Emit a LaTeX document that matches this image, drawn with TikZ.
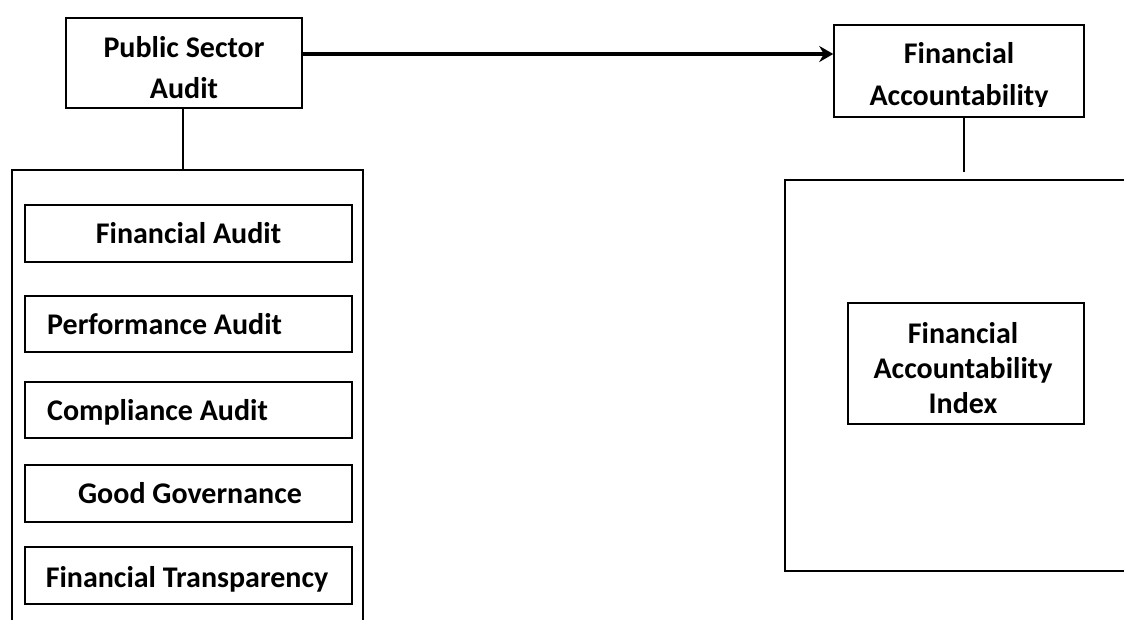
\documentclass[tikz,border=0pt]{standalone}
\usepackage{fontspec}
\setmainfont{Carlito}
\usetikzlibrary{arrows.meta}
\begin{document}
\begin{tikzpicture}[x=1pt,y=-1pt,
  box/.style={draw, line width=1.5pt, inner sep=0pt},
  lbl/.style={font=\bfseries\fontsize{30}{41}\selectfont, inner sep=0pt, align=center},
  conn/.style={line width=1.5pt},
]
\useasboundingbox (0,0) rectangle (1124,619);
\clip (0,0) rectangle (1124,619);
% top boxes
\node[box, minimum width=236pt, minimum height=90pt] (psa) at (184,63) {};
\node[box, minimum width=250pt, minimum height=92pt] (fa) at (959,71) {};
% containers
\node[box, line width=1.6pt, minimum width=351pt, minimum height=480pt] (left) at (187.5,410) {};
\node[box, line width=1.6pt, minimum width=375pt, minimum height=391pt] (right) at (972.5,375.5) {};
% inner left boxes
\node[box, minimum width=327pt, minimum height=57pt] (fab) at (188.5,233.5) {};
\node[box, minimum width=327pt, minimum height=56pt] (pab) at (188.5,324) {};
\node[box, minimum width=327pt, minimum height=56pt] (cab) at (188.5,410) {};
\node[box, minimum width=327pt, minimum height=57pt] (ggb) at (188.5,493.5) {};
\node[box, minimum width=327pt, minimum height=57pt] (ftb) at (188.5,575.5) {};
% inner right box
\node[box, minimum width=236pt, minimum height=121pt] (fai) at (966,363.5) {};
% texts
\node[lbl, anchor=north] (psaT) at (184,35) {\rule{0pt}{22pt}Public Sector\\Audit};
\begin{scope}
\clip (834,25) rectangle (1084,106);
\node[lbl, font=\bfseries\fontsize{30}{42}\selectfont, anchor=north] (faT) at (959,41) {\rule{0pt}{22pt}Financial\\Accountability};
\end{scope}
\node[lbl, font=\bfseries\fontsize{30}{35}\selectfont, anchor=north] (faiT) at (963,321) {\rule{0pt}{22pt}Financial\\Accountability\\Index};
\node[lbl, anchor=base] (fabT) at (188.5,243) {Financial Audit};
\node[lbl, anchor=base west] (pabT) at (47,334) {Performance Audit};
\node[lbl, anchor=base west] (cabT) at (47,420) {Compliance Audit};
\node[lbl, anchor=base] (ggbT) at (190,503) {Good Governance};
\node[lbl, anchor=base] (ftbT) at (187,587) {Financial Transparency};
% connectors
\draw[line width=3.5pt, -{Stealth[length=14pt,width=16pt]}] ([yshift=9pt]psa.east) -- ([yshift=9pt]psa.east -| fa.west);
\draw[conn] ([xshift=-1pt]psa.south) -- ([xshift=-1pt]psa.south |- left.north);
\draw[conn, shorten >=7pt] ([xshift=5pt]fa.south) -- ([xshift=5pt]fa.south |- right.north);
\end{tikzpicture}
\end{document}
